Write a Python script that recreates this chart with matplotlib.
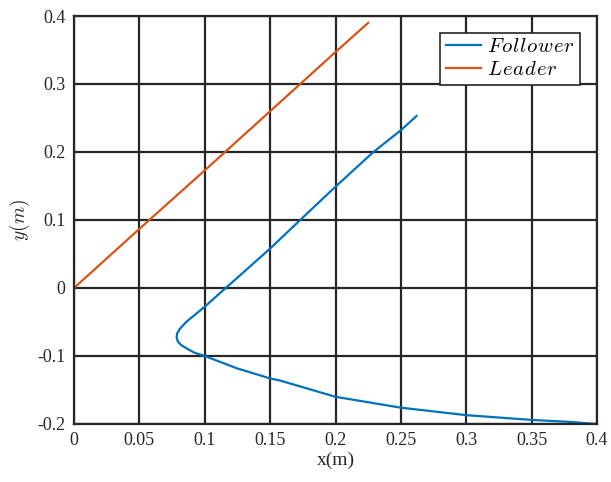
import matplotlib
matplotlib.use("Agg")
import matplotlib.pyplot as plt

# values
leader_x = [0.0, 0.05, 0.1, 0.15, 0.2, 0.225]
leader_y = [0.0, 0.087, 0.173, 0.26, 0.347, 0.39]

follower_x = [0.4, 0.38, 0.35, 0.3, 0.25, 0.2, 0.1575, 0.15, 0.1244, 0.1, 0.092, 0.086,
              0.082, 0.0795, 0.0785, 0.0788, 0.081, 0.086, 0.1, 0.116, 0.123, 0.15,
              0.173, 0.2, 0.229, 0.25, 0.262]
follower_y = [-0.2, -0.197, -0.194, -0.187, -0.176, -0.16, -0.136, -0.133, -0.118, -0.1,
              -0.095, -0.0887, -0.084, -0.079, -0.073, -0.067, -0.06, -0.0496, -0.0275,
              0.0, 0.0118, 0.058, 0.1, 0.149, 0.2, 0.232, 0.253]

x_ticks = [0, 0.05, 0.1, 0.15, 0.2, 0.25, 0.3, 0.35, 0.4]
x_labels = ["0", "0.05", "0.1", "0.15", "0.2", "0.25", "0.3", "0.35", "0.4"]
y_ticks = [-0.2, -0.1, 0, 0.1, 0.2, 0.3, 0.4]
y_labels = ["-0.2", "-0.1", "0", "0.1", "0.2", "0.3", "0.4"]


def spaced(word, gap=0.05):
    return "$" + ("\\hspace{%g}" % gap).join(word) + "$"


plt.rcParams["font.family"] = ["Liberation Serif", "DejaVu Serif"]
plt.rcParams["mathtext.fontset"] = "cm"

fig = plt.figure(figsize=(6.11, 4.82), dpi=100)
ax = fig.add_axes([74 / 611, 58 / 482, 523 / 611, 408 / 482])

ax.plot(follower_x, follower_y, color="#0072BD", lw=1.6, label=spaced("Follower"))
ax.plot(leader_x, leader_y, color="#D95319", lw=1.6, label=spaced("Leader"))

ax.set_xlim(0, 0.4)
ax.set_ylim(-0.2, 0.4)
ax.set_xticks(x_ticks)
ax.set_xticklabels(x_labels)
ax.set_yticks(y_ticks)
ax.set_yticklabels(y_labels)
ax.tick_params(length=0, labelsize=13, colors="#262626", pad=6)
ax.grid(True, color="#262626", lw=1.6)
ax.set_axisbelow(True)
for s in ax.spines.values():
    s.set_color("#262626")
    s.set_linewidth(1.6)

ax.set_xlabel("x(m)", fontsize=14, color="#262626", labelpad=2)
ax.set_ylabel("$y(m)$", fontsize=14, color="#262626", labelpad=4)

leg = ax.legend(loc="upper right", fontsize=15, fancybox=False, framealpha=1,
                edgecolor="#262626", borderpad=0.25, handlelength=1.7,
                handletextpad=0.3, labelspacing=0.15, borderaxespad=0.8)
leg.get_frame().set_linewidth(1.2)

fig.savefig("out.png", dpi=100)
